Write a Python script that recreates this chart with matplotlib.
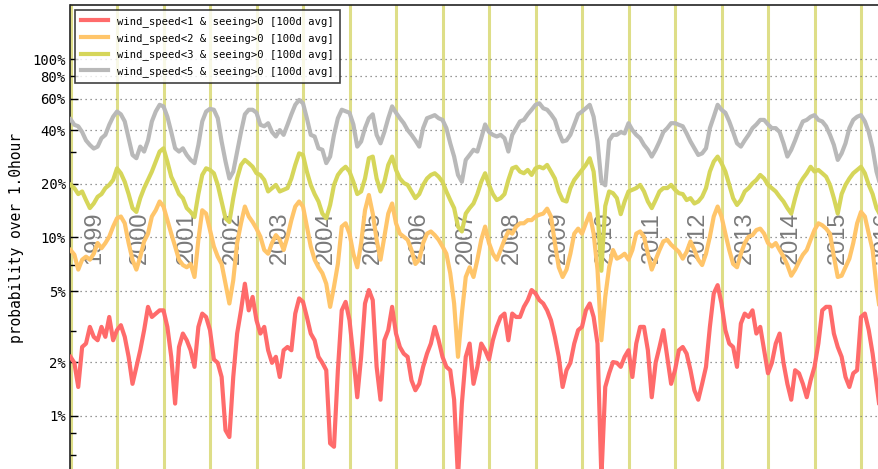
import matplotlib
matplotlib.use("Agg")
import matplotlib.pyplot as plt
import numpy as np

# 100-day averaged probabilities (%), one value per month starting Jan 1999
start_year = 1999

red_pct = [
    2.14, 1.98, 1.45, 2.43, 2.54, 3.15, 2.77, 2.65, 3.15, 2.77, 3.58, 2.65,
    3.02, 3.22, 2.77, 2.14, 1.51, 1.88, 2.33, 3.02, 4.08, 3.58, 3.74, 3.9,
    3.9, 3.15, 2.14, 1.17, 2.43, 2.89, 2.65, 2.33, 1.88, 3.15, 3.74, 3.58,
    3.02, 2.07, 1.98, 1.65, 0.83, 0.76, 1.65, 2.89, 3.9, 5.5, 3.9, 4.64,
    3.43, 2.89, 3.15, 2.33, 1.98, 2.14, 1.65, 2.33, 2.43, 2.33, 3.74, 4.55,
    4.35, 3.58, 2.89, 2.65, 2.14, 1.98, 1.80, 0.70, 0.67, 1.80, 3.9, 4.35,
    3.43, 2.14, 1.27, 2.14, 4.26, 5.07, 4.45, 1.88, 1.23, 2.65, 3.02, 4.08,
    2.89, 2.43, 2.23, 2.14, 1.58, 1.39, 1.51, 1.88, 2.23, 2.54, 3.15, 2.65,
    2.14, 1.88, 1.80, 1.23, 0.45, 1.17, 2.14, 2.54, 1.51, 1.88, 2.54, 2.33,
    2.07, 2.65, 3.15, 3.58, 3.74, 2.65, 3.74, 3.58, 3.58, 4.08, 4.45, 5.07,
    4.85, 4.45, 4.26, 3.9, 3.43, 2.77, 2.14, 1.45, 1.80, 1.98, 2.54, 3.02,
    3.15, 3.9, 4.26, 3.58, 2.54, 0.45, 1.45, 1.73, 2.0, 1.98, 1.88, 2.14,
    2.33, 1.65, 2.54, 3.15, 3.15, 2.33, 1.27, 1.98, 2.43, 3.02, 2.14, 1.51,
    1.80, 2.33, 2.43, 2.23, 1.80, 1.39, 1.23, 1.51, 1.88, 3.15, 4.85, 5.4,
    4.26, 3.02, 2.54, 2.43, 1.88, 3.29, 3.74, 3.58, 3.9, 2.89, 3.15, 2.33,
    1.73, 1.98, 2.54, 2.89, 1.98, 1.51, 1.23, 1.80, 1.73, 1.51, 1.27, 1.58,
    1.88, 2.54, 3.9, 4.08, 4.08, 2.89, 2.43, 2.14, 1.65, 1.45, 1.73, 1.80,
    3.58, 3.74, 3.02, 2.23, 1.51, 1.03, 1.0,
]

orange_pct = [
    8.5, 8.0, 6.6, 7.5, 7.8, 7.5, 8.1, 9.3, 8.7, 9.3, 10.1, 11.5,
    12.8, 13.1, 12, 9.3, 7.5, 6.6, 7.8, 9.5, 10.5, 13.1, 14.2, 15.9,
    14.9, 12.5, 10.5, 8.9, 7.5, 7.0, 6.8, 7.1, 6.0, 9.7, 14.2, 13.6,
    11, 8.9, 7.8, 7.1, 5.5, 4.26, 5.75, 9.3, 12, 14.9, 13.1, 12.2,
    11.2, 10.1, 8.5, 8.1, 9.3, 10.3, 9.7, 8.5, 10.1, 12.5, 14.9, 15.9,
    14.9, 11.5, 8.9, 7.5, 6.8, 6.3, 5.5, 4.08, 5.3, 7.1, 11.5, 12,
    10.5, 8.1, 6.8, 9.3, 14.2, 17.3, 13.6, 9.7, 7.5, 10.1, 13.6, 15.5,
    12, 10.5, 10.1, 9.7, 8.5, 7.1, 7.5, 9.3, 10.5, 10.8, 10.3, 9.7,
    8.9, 8.1, 6.3, 4.26, 2.14, 3.74, 6.0, 6.8, 6.0, 7.5, 9.7, 11.5,
    9.3, 8.1, 7.5, 8.5, 9.7, 10.8, 10.5, 11.5, 12, 12, 12.5, 12.5,
    13.1, 13.4, 13.6, 14.5, 13.1, 9.3, 6.8, 6.0, 6.6, 8.1, 10.5, 11.2,
    10.5, 12, 13.6, 10.5, 6.6, 2.65, 4.64, 6.8, 8.5, 7.6, 7.8, 8.1,
    7.5, 8.5, 10.5, 10.8, 10.1, 8.1, 6.6, 7.5, 8.5, 9.5, 9.7, 9.1,
    8.7, 8.3, 7.6, 8.3, 9.5, 8.5, 7.5, 7.0, 8.1, 10.1, 13.1, 14.9,
    13.1, 10.5, 8.5, 7.1, 6.8, 8.1, 9.3, 10.1, 10.3, 11, 11.2, 10.5,
    9.3, 8.9, 9.3, 8.5, 7.8, 7.0, 6.1, 6.6, 7.3, 8.0, 8.5, 9.7,
    11, 12, 11.7, 11.2, 10.5, 7.8, 6.0, 6.1, 6.8, 7.6, 9.3, 12,
    13.9, 13.1, 10.5, 8.5, 5.3, 3.74, 3.5,
]

yellow_pct = [
    19.7, 18.9, 17.5, 18.1, 16.2, 14.6, 15.5, 16.9, 17.5, 18.9, 19.7, 21,
    24.4, 22.9, 20.5, 17.5, 14.6, 13.9, 16.6, 18.9, 21, 23.4, 26.6, 30.3,
    31.6, 26.6, 21.9, 19.7, 17.5, 16.6, 14.6, 13.9, 13, 17.5, 22.4, 24.4,
    23.9, 22.9, 19.7, 15.9, 12.8, 12.2, 16.6, 21.4, 25.5, 27.2, 26.1, 24.9,
    22.9, 22.4, 21, 18.1, 18.9, 19.7, 18.1, 18.5, 18.9, 21.4, 25.5, 29.6,
    29, 23.4, 19.7, 17.5, 15.9, 13.6, 12.8, 15.2, 19.7, 22.4, 23.9, 24.9,
    23.4, 20.5, 17.5, 18.1, 21.4, 27.8, 28.4, 21.4, 18.1, 20.5, 25.5, 28.4,
    23.9, 21.4, 20.2, 19.7, 18.1, 16.6, 17.5, 19.7, 21.4, 22.4, 22.9, 21.9,
    20.5, 18.1, 16.2, 14.6, 11.5, 10.8, 13.6, 14.6, 15.5, 17.5, 20.5, 22.9,
    19.7, 17.5, 16.2, 16.6, 17.5, 21, 24.4, 24.9, 23.4, 22.9, 23.9, 22.4,
    24.4, 24.9, 24.4, 25.5, 23.4, 21.4, 18.1, 16.2, 15.9, 18.9, 21, 22.4,
    23.9, 25.5, 27.8, 23.4, 14, 6.5, 15, 18.1, 17.7, 16.6, 13.5, 15.9,
    18.1, 18.5, 18.9, 19.7, 18.1, 15.9, 14.6, 16.2, 18.1, 18.9, 18.9, 19.7,
    18.5, 17.7, 17.5, 16.2, 16.6, 15.5, 15.9, 16.9, 18.9, 23.4, 26.6, 28.4,
    26.1, 23.4, 19.7, 16.6, 15.2, 16.2, 18.1, 18.9, 20.1, 21, 22.4, 21.4,
    19.7, 18.9, 18.1, 16.9, 15.9, 14.6, 13.6, 16.6, 19.7, 21.4, 22.9, 24.9,
    23.4, 23.9, 22.9, 21.9, 19.7, 16.6, 13.6, 17.5, 19.7, 21.4, 22.9, 23.9,
    24.9, 22.9, 19.7, 17.5, 14.6, 13.3, 13,
]

gray_pct = [
    46, 42.8, 42, 39, 35, 33, 31.5, 32.3, 36, 37.6, 42.8, 47.5,
    50.8, 49, 44.7, 36, 29, 27.8, 32.3, 30.3, 35, 44.7, 50.8, 55.4,
    54.3, 47.5, 39, 31.6, 30.3, 31.6, 29, 27.2, 26.1, 33, 44.7, 50.8,
    52.6, 52, 46.6, 34.5, 26.7, 21.4, 23.4, 30.3, 39, 49, 52, 52,
    50, 42.8, 42, 43.7, 39, 36.8, 40, 37.6, 42.8, 49, 55.4, 59,
    56.5, 46.6, 37.6, 36.8, 31.6, 31, 26.1, 28.4, 37.6, 46.6, 52, 51,
    50, 43, 32.3, 34.5, 41, 46.6, 49, 37.6, 33.7, 39, 46.6, 54.3,
    50, 46.6, 43.7, 40, 37.6, 35, 32.3, 41, 46.6, 47.5, 48.5, 46.6,
    45.6, 41, 33.7, 28.4, 22.4, 20.5, 27.2, 29, 31, 30.3, 36, 43,
    39, 37.6, 36.8, 37.6, 36, 30.3, 37.6, 41, 44.7, 45.6, 49, 52,
    55.4, 56.5, 53, 52, 49, 45.6, 39, 34.5, 35, 37.6, 43, 49,
    50.8, 53, 55.4, 47.5, 34.5, 20.5, 19.6, 35, 37.6, 37.6, 39, 38.3,
    43.7, 40, 37.6, 36, 33, 31, 28.4, 31, 34.5, 39, 41, 43.7,
    43.7, 42.8, 42, 38.3, 34.5, 31.6, 29, 29.6, 31.6, 41, 47.5, 55.4,
    52, 50, 44.7, 39, 33.7, 32.3, 35, 37.6, 41, 43, 45.6, 45.6,
    43, 41, 41, 39, 33.7, 28.4, 31, 35, 40, 44.7, 45.6, 47.5,
    48.5, 45.6, 44.7, 42, 37.6, 33, 27.2, 29.6, 33.7, 41, 45.6, 47.5,
    48.5, 44.7, 39, 31.6, 23.4, 19.6, 19,
]

labels = [
    "wind_speed<1 & seeing>0 [100d avg]",
    "wind_speed<2 & seeing>0 [100d avg]",
    "wind_speed<3 & seeing>0 [100d avg]",
    "wind_speed<5 & seeing>0 [100d avg]",
]
colors = ["#ff6b6b", "#ffc56a", "#d6d65a", "#b9b9b9"]
years = list(range(1999, 2017))
ytick_vals = [1, 2, 5, 10, 20, 40, 60, 80, 100]
ytick_minor = [0.6, 0.8, 3, 7, 30]

t = start_year + np.arange(len(red_pct)) / 12.0

fig = plt.figure(figsize=(8.79, 4.69), dpi=100)
# axes run off the bottom and right edge of the picture, like the original crop
ax = fig.add_axes([70.5 / 879, -2.0 / 469, 837 / 879, 465.6 / 469])

for y in years:
    ax.axvline(y, color="#dede88", lw=2.2, zorder=1)

for series, c, lab in zip([red_pct, orange_pct, yellow_pct, gray_pct], colors, labels):
    ax.plot(t, series, color=c, lw=3, label=lab, zorder=3, solid_joinstyle="round")

for y in years:
    ax.text(y + 0.5, 10, str(y), rotation=90, ha="center", va="center",
            fontsize=17, color="#7a7a7a", family="Liberation Sans", zorder=2)

ax.set_yscale("log")
ax.set_ylim(0.49, 200)
ax.set_xlim(1999, 2017)
ax.set_yticks(ytick_vals)
ax.set_yticklabels([f"{v}%" for v in ytick_vals], family="DejaVu Sans Mono", fontsize=10)
ax.set_yticks(ytick_minor, minor=True)
ax.yaxis.set_minor_formatter(matplotlib.ticker.NullFormatter())
ax.set_xticks([])
ax.tick_params(axis="y", which="major", direction="in", length=6, width=1)
ax.tick_params(axis="y", which="minor", direction="in", length=4, width=1)
ax.grid(axis="y", which="major", ls=(0, (1, 3)), color="#777777", lw=0.9)
for s in ax.spines.values():
    s.set_color("#222222")
    s.set_linewidth(1.2)

ax.set_ylabel("probability over 1.0hour", family="DejaVu Sans Mono", fontsize=10.5, labelpad=6)

leg = ax.legend(loc="upper left", prop={"family": "DejaVu Sans Mono", "size": 7.6},
                frameon=True, fancybox=False, borderaxespad=0.4, handlelength=2.6,
                labelspacing=0.55, borderpad=0.6)
leg.get_frame().set_edgecolor("#111111")
leg.get_frame().set_linewidth(1.2)
leg.set_zorder(10)

fig.savefig("out.png", dpi=100)
